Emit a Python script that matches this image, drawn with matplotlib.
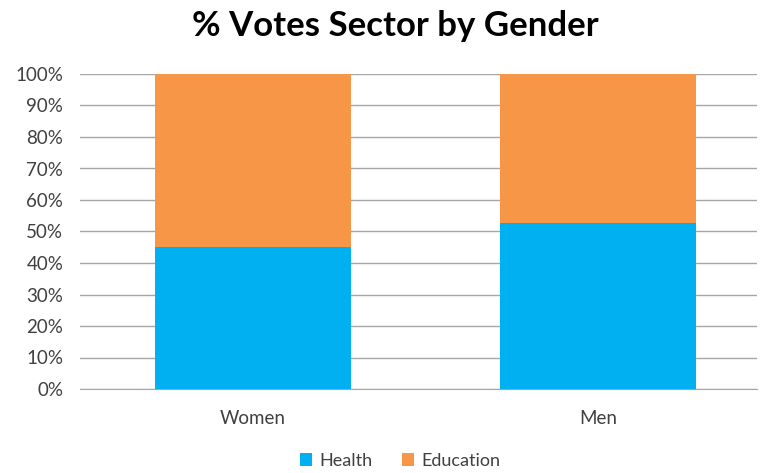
import matplotlib
matplotlib.use("Agg")
import matplotlib.pyplot as plt
from matplotlib.ticker import PercentFormatter

categories = ["Women", "Men"]
health = [45.0, 52.8]
education = [55.0, 47.2]
yticks = [0, 10, 20, 30, 40, 50, 60, 70, 80, 90, 100]

plt.rcParams['font.family'] = ['Lato', 'DejaVu Sans']

W, H = 761, 473
fig = plt.figure(figsize=(W/100, H/100), dpi=100)
ax = fig.add_axes([80/W, (H-389)/H, (757-80)/W, (389-74)/H])

x = list(range(len(categories)))
bw = 0.568
ax.bar(x, health, bw, color="#00B0F0", label="Health", zorder=3)
ax.bar(x, education, bw, bottom=health, color="#F79646", label="Education", zorder=3)

ax.set_xlim(-0.5, 1 + (757-598.3)/345.6)
ax.set_ylim(0, 100)
ax.set_yticks(yticks)
ax.yaxis.set_major_formatter(PercentFormatter(decimals=0))
ax.set_xticks(x)
ax.set_xticklabels(categories)
ax.grid(axis="y", color="#A6A6A6", lw=1, zorder=0)
for s in ["top", "right", "left"]:
    ax.spines[s].set_visible(False)
ax.spines["bottom"].set_color("#A6A6A6")
ax.tick_params(axis="both", length=0, labelsize=13.5, colors="#404040")
ax.tick_params(axis="y", pad=12)
ax.tick_params(axis="x", pad=15)

fig.text(395/W, 1 - 26/H, "% Votes Sector by Gender", ha="center", va="center",
         fontsize=25, fontweight="bold", color="#000000")

leg = fig.legend(loc="center", bbox_to_anchor=(400/W, 1 - 461/H), ncol=2, frameon=False,
                 fontsize=13, handlelength=0.7, handleheight=0.7, handletextpad=0.4,
                 columnspacing=1.6, labelcolor="#404040")

fig.savefig("out.png", dpi=100)
